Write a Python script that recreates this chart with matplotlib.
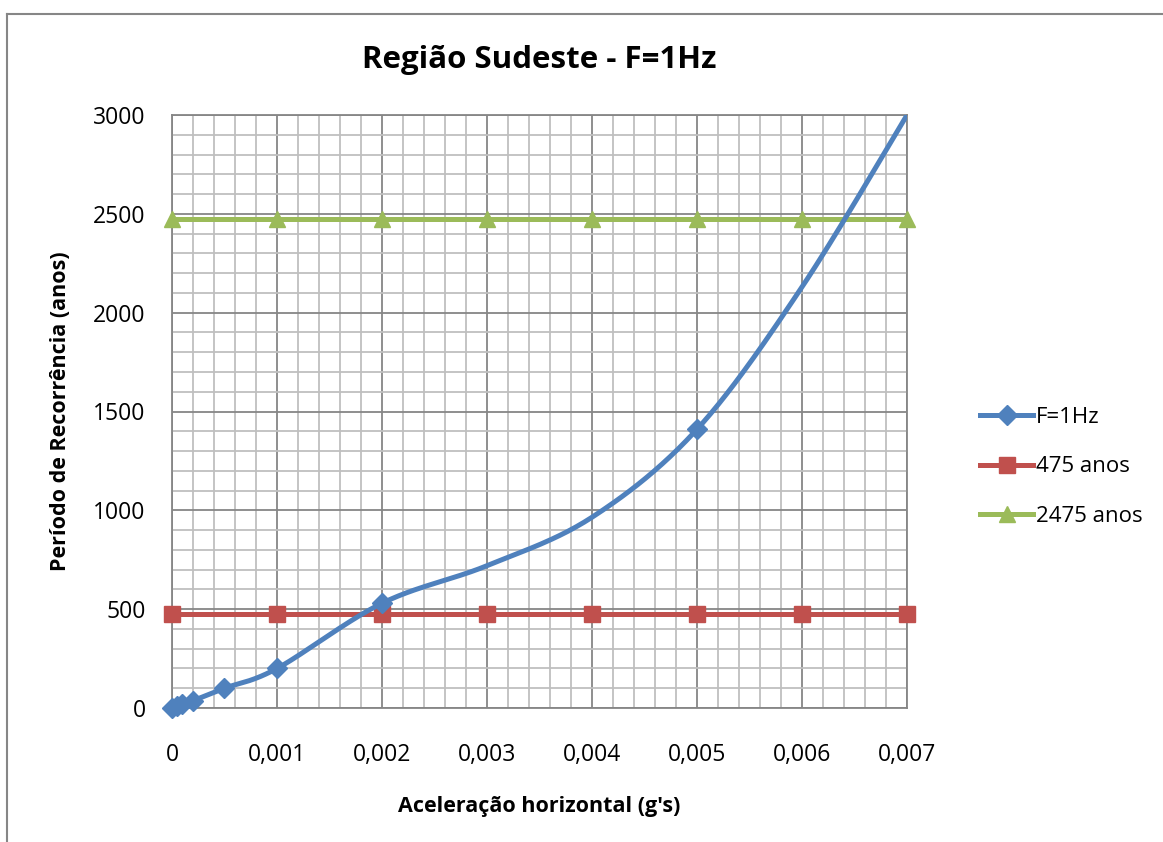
import numpy as np
import matplotlib
matplotlib.use('Agg')
import matplotlib.pyplot as plt
from matplotlib.ticker import MultipleLocator, FuncFormatter
from matplotlib.lines import Line2D

plt.rcParams['font.family'] = ['Open Sans', 'DejaVu Sans']

# Data (curve values at 0.003, 0.004, 0.006, 0.007, no marker there)
acel = [0, 0.00005, 0.0001, 0.0002, 0.0005, 0.001, 0.002, 0.003, 0.004, 0.005, 0.006, 0.007]
periodo = [0, 10, 20, 37, 100, 200, 530, 720, 965, 1410, 2130, 3000]
marked = [0, 1, 2, 3, 4, 5, 6, 9]
ref_x = [0, 0.001, 0.002, 0.003, 0.004, 0.005, 0.006, 0.007]
ref_475 = [475] * len(ref_x)
ref_2475 = [2475] * len(ref_x)

blue = '#4F81BD'
red = '#C0504D'
green = '#9BBB59'


def excel_smooth(xs, ys, n=40):
    # Bezier smoothing like spreadsheet "smoothed line"
    pts = np.column_stack([xs, ys]).astype(float)
    out = []
    for i in range(len(pts) - 1):
        p0 = pts[i - 1] if i > 0 else pts[i]
        p1 = pts[i]
        p2 = pts[i + 1]
        p3 = pts[i + 2] if i + 2 < len(pts) else pts[i + 1]
        c1 = p1 + (p2 - p0) / 6
        c2 = p2 - (p3 - p1) / 6
        t = np.linspace(0, 1, n)[:, None]
        seg = (1 - t) ** 3 * p1 + 3 * (1 - t) ** 2 * t * c1 + 3 * (1 - t) * t ** 2 * c2 + t ** 3 * p2
        out.append(seg if i == 0 else seg[1:])
    seg = np.vstack(out)
    return seg[:, 0], seg[:, 1]


fig = plt.figure(figsize=(11.63, 8.42), dpi=100)
ax = fig.add_axes([172 / 1163, 1 - 708 / 842, (907 - 172) / 1163, (708 - 115) / 842])

sx, sy = excel_smooth(acel, periodo)
ax.plot(sx, sy, color=blue, lw=3.6, solid_capstyle='round', zorder=4, clip_on=True)
ax.plot([acel[i] for i in marked], [periodo[i] for i in marked], ls='none', marker='D',
        ms=10, color=blue, zorder=5, clip_on=False)
ax.plot(ref_x, ref_475, color=red, lw=3.6, marker='s', ms=11, zorder=3, clip_on=False)
ax.plot(ref_x, ref_2475, color=green, lw=3.6, marker='^', ms=12, zorder=3, clip_on=False)

ax.set_xlim(0, 0.007)
ax.set_ylim(0, 3000)
ax.xaxis.set_major_locator(MultipleLocator(0.001))
ax.xaxis.set_minor_locator(MultipleLocator(0.0002))
ax.yaxis.set_major_locator(MultipleLocator(500))
ax.yaxis.set_minor_locator(MultipleLocator(100))
ax.grid(which='minor', color='#BFBFBF', lw=1.3)
ax.grid(which='major', color='#868686', lw=1.3)
ax.set_axisbelow(True)
for s in ax.spines.values():
    s.set_color('#868686')
    s.set_linewidth(1.3)
ax.tick_params(which='both', length=0)
ax.tick_params(axis='y', pad=19, labelsize=16.5)
ax.tick_params(axis='x', pad=25, labelsize=16.5)
ax.xaxis.set_major_formatter(FuncFormatter(lambda v, p: '0' if abs(v) < 1e-12 else f'{v:.3f}'.replace('.', ',')))

ax.set_xlabel('Aceleração horizontal (g\'s)', fontsize=15.5, fontweight='bold', labelpad=21)
ax.set_ylabel('Período de Recorrência (anos)', fontsize=15.5, fontweight='bold', labelpad=16)
fig.text((172 + 907) / 2 / 1163, 1 - 60 / 842, 'Região Sudeste - F=1Hz', ha='center', va='center',
         fontsize=22.5, fontweight='bold')

handles = [
    Line2D([], [], color=blue, lw=3.6, marker='D', ms=10),
    Line2D([], [], color=red, lw=3.6, marker='s', ms=11),
    Line2D([], [], color=green, lw=3.6, marker='^', ms=12),
]
fig.legend(handles, ['F=1Hz', '475 anos', '2475 anos'], loc='center left',
           bbox_to_anchor=(960 / 1163, 1 - 467 / 842), frameon=False, fontsize=16,
           handlelength=2.4, handletextpad=0.12, labelspacing=1.28)

# outer chart border
fig.add_artist(Line2D([7 / 1163, 7 / 1163], [0, 1 - 14 / 842], color='#868686', lw=1.5))
fig.add_artist(Line2D([7 / 1163, 1], [1 - 14 / 842, 1 - 14 / 842], color='#868686', lw=1.5))

fig.savefig('out.png', dpi=100)
